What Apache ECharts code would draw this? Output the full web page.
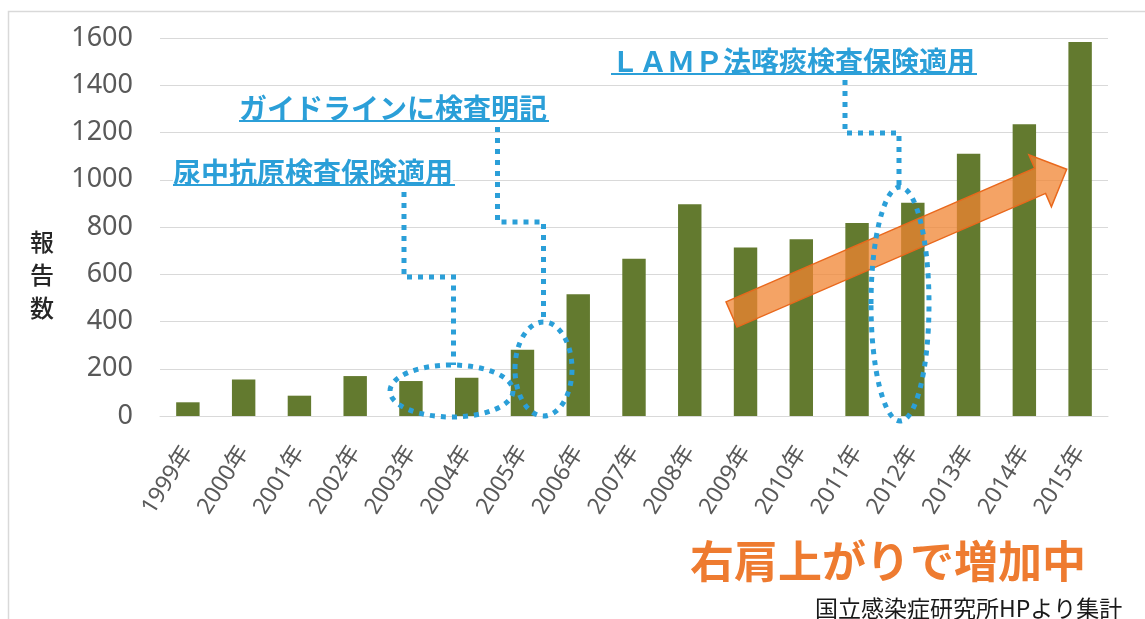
<!DOCTYPE html>
<html>
<head>
<meta charset="utf-8">
<script src="https://cdn.jsdelivr.net/npm/echarts@6/dist/echarts.min.js"></script>
<style>
    html, body { margin: 0; padding: 0; background: #fff; }
    #reportChart { width: 1145px; height: 619px; }
</style>
</head>
<body>
<div id="reportChart"></div>
<script>
// 年別 報告数
const years = ['1999年', '2000年', '2001年', '2002年', '2003年', '2004年', '2005年', '2006年', '2007年',
    '2008年', '2009年', '2010年', '2011年', '2012年', '2013年', '2014年', '2015年'];
const reports = [58, 155, 86, 169, 148, 162, 280, 515, 666, 896, 713, 748, 817, 903, 1110, 1235, 1583];
const yTicks = { min: 0, max: 1600, interval: 200 };

const blue = '#2b9fd8';
const jpFont = '"Noto Sans CJK JP", "Noto Sans", sans-serif';

// 注釈（テキスト＋下線）
function note(text, x, y, width) {
    return [
        {
            type: 'text', z: 20,
            style: {
                x: x, y: y, text: text, fill: blue,
                font: 'bold 28px ' + jpFont,
                verticalAlign: 'middle',
                backgroundColor: '#fff'
            }
        },
        {
            type: 'line', z: 21,
            shape: { x1: x, y1: y + 13, x2: x + width, y2: y + 13 },
            style: { stroke: blue, lineWidth: 2 }
        }
    ];
}

// 点線
const dotted = { stroke: blue, lineWidth: 5, lineDash: [5, 6], fill: null };
function path(points) {
    return { type: 'polyline', z: 15, shape: { points: points }, style: dotted };
}
function ring(cx, cy, rx, ry) {
    return { type: 'ellipse', z: 15, shape: { cx: cx, cy: cy, rx: rx, ry: ry }, style: dotted };
}

const reportOption = {
    animation: false,
    grid: {
        left: 160,
        right: 37,
        top: 38,
        bottom: 203
    },
    xAxis: {
        type: 'category',
        data: years,
        axisLine: { lineStyle: { color: '#d9d9d9', width: 1 } },
        axisTick: { show: false },
        axisLabel: {
            rotate: 58,
            margin: 32,
            fontSize: 23,
            color: '#595959',
            fontFamily: '"Noto Sans", "Noto Sans CJK JP", sans-serif'
        }
    },
    yAxis: {
        type: 'value',
        min: yTicks.min,
        max: yTicks.max,
        interval: yTicks.interval,
        axisLine: { show: false },
        axisTick: { show: false },
        axisLabel: {
            margin: 27,
            fontSize: 27,
            color: '#595959',
            fontFamily: '"Noto Sans", sans-serif',
            formatter: function (v) { return String(v); }
        },
        splitLine: { lineStyle: { color: '#d9d9d9', width: 1 } }
    },
    series: [
        {
            name: '報告数',
            type: 'bar',
            data: reports,
            barWidth: '42%',
            itemStyle: { color: '#637a2f' }
        }
    ],
    graphic: [
        // 外枠
        {
            type: 'rect', z: 0, silent: true,
            shape: { x: 8.5, y: 11.5, width: 1200, height: 700 },
            style: { fill: null, stroke: '#d9d9d9', lineWidth: 1.5 }
        },
        // 縦書きの軸名
        {
            type: 'text',
            style: {
                x: 42, y: 275, text: '報\n告\n数',
                font: '500 24px ' + jpFont,
                lineHeight: 33, fill: '#262626',
                align: 'center', verticalAlign: 'middle'
            }
        },
        // 右肩上がりの矢印
        {
            type: 'polygon', z: 10,
            shape: {
                points: [[726, 301.9], [1034.7, 168.2], [1028.9, 154.8], [1066.7, 169.3],
                    [1051.4, 206.8], [1045.6, 193.4], [737, 327.1]]
            },
            style: { fill: 'rgba(240,132,50,0.75)', stroke: '#e9681c', lineWidth: 1.5 }
        },
        path([[404, 192], [404, 277], [453.5, 277], [453.5, 365]]),
        ring(451.5, 391, 61.5, 26),
        path([[497.5, 127], [497.5, 222], [543.5, 222], [543.5, 322]]),
        ring(543.5, 369, 28.5, 47),
        path([[845, 80], [845, 133], [899, 133], [899, 187]]),
        ring(900, 304, 29, 117),
        ...note('尿中抗原検査保険適用', 173, 172, 282),
        ...note('ガイドラインに検査明記', 239, 108, 310),
        ...note('ＬＡＭＰ法喀痰検査保険適用', 611, 61, 366),
        {
            type: 'text',
            style: {
                x: 690, y: 561, text: '右肩上がりで増加中',
                font: 'bold 44px ' + jpFont, fill: '#ee7b30',
                verticalAlign: 'middle'
            }
        },
        {
            type: 'text',
            style: {
                x: 815, y: 608, text: '国立感染症研究所HPより集計',
                font: '23px ' + jpFont, fill: '#1a1a1a',
                verticalAlign: 'middle'
            }
        }
    ]
};

const reportChart = echarts.init(document.getElementById('reportChart'));
reportChart.setOption(reportOption);
</script>
</body>
</html>
